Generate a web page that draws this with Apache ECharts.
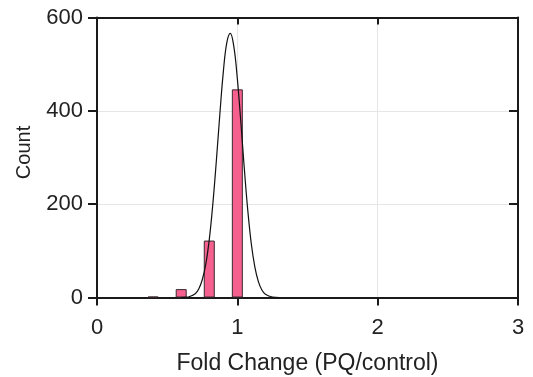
<!DOCTYPE html>
<html>
<head>
<meta charset="utf-8">
<script src="https://cdn.jsdelivr.net/npm/echarts@6/dist/echarts.min.js"></script>
<style>
  html, body { margin: 0; padding: 0; background: #fff; }
  #chart { width: 533px; height: 377px; }
</style>
</head>
<body>
<div id="chart"></div>
<script>
// Histogram bins (bin centres) and counts
const binCenters = [0.4, 0.6, 0.8, 1.0];
const binCounts = [2, 18, 122, 446];

// Fitted distribution curve, sampled along fold change
const fitX = [0.6, 0.65, 0.7, 0.725, 0.75, 0.775, 0.8, 0.825, 0.85, 0.875, 0.9, 0.925, 0.95,
              0.975, 1.0, 1.025, 1.05, 1.075, 1.1, 1.125, 1.15, 1.175, 1.2, 1.25, 1.3];
const fitY = [0, 1, 8, 18, 38, 71, 124, 199, 291, 391, 483, 546, 566,
              538, 469, 376, 275, 185, 114, 65, 34, 16, 7, 1, 0];

// Axis ticks
const xTicks = [0, 1, 2, 3];
const yTicks = [0, 200, 400, 600];

const axisColor = '#1a1a1a';
const textColor = '#222';
const font = 'Liberation Sans, Arial, Helvetica, sans-serif';

const chart = echarts.init(document.getElementById('chart'), null, { renderer: 'canvas' });

chart.setOption({
  animation: false,
  grid: { left: 97, right: 15, top: 17.5, bottom: 79.5, containLabel: false, outerBoundsMode: 'none' },
  xAxis: [
    {
      type: 'value', min: xTicks[0], max: xTicks[xTicks.length - 1], interval: 1,
      position: 'bottom',
      name: 'Fold Change (PQ/control)', nameLocation: 'middle', nameGap: 55,
      nameTextStyle: { fontFamily: font, fontSize: 23, color: textColor },
      axisLine: { show: true, onZero: false, lineStyle: { color: axisColor, width: 2 } },
      axisTick: { show: true, inside: false, length: 8, lineStyle: { color: axisColor, width: 2 } },
      axisLabel: { fontFamily: font, fontSize: 22, color: textColor, margin: 19 },
      splitLine: { show: true, lineStyle: { color: '#e6e6e6', width: 1 } }
    },
    {
      type: 'value', min: xTicks[0], max: xTicks[xTicks.length - 1], interval: 1,
      position: 'top',
      axisLine: { show: true, onZero: false, lineStyle: { color: axisColor, width: 2 } },
      axisTick: { show: true, inside: true, length: 7, lineStyle: { color: axisColor, width: 2 } },
      axisLabel: { show: false },
      splitLine: { show: false }
    }
  ],
  yAxis: [
    {
      type: 'value', min: yTicks[0], max: yTicks[yTicks.length - 1], interval: 200,
      position: 'left',
      name: 'Count', nameLocation: 'middle', nameGap: 63, nameRotate: 90,
      nameTextStyle: { fontFamily: font, fontSize: 20, color: textColor, padding: [0, 0, 0, 10] },
      axisLine: { show: true, onZero: false, lineStyle: { color: axisColor, width: 2 } },
      axisTick: { show: true, inside: false, length: 9, lineStyle: { color: axisColor, width: 2 } },
      axisLabel: { fontFamily: font, fontSize: 22, color: textColor, margin: 14 },
      splitLine: { show: true, lineStyle: { color: '#e6e6e6', width: 1 } }
    },
    {
      type: 'value', min: yTicks[0], max: yTicks[yTicks.length - 1], interval: 200,
      position: 'right',
      axisLine: { show: true, onZero: false, lineStyle: { color: axisColor, width: 2 } },
      axisTick: { show: true, inside: true, length: 9, lineStyle: { color: axisColor, width: 2 } },
      axisLabel: { show: false },
      splitLine: { show: false }
    }
  ],
  series: [
    {
      type: 'bar',
      xAxisIndex: 0, yAxisIndex: 0,
      barWidth: 11,
      data: binCenters.map((x, i) => [x, binCounts[i]]),
      itemStyle: { color: '#f5608f', borderColor: '#3a2a30', borderWidth: 1 },
      z: 2
    },
    {
      type: 'line',
      xAxisIndex: 0, yAxisIndex: 0,
      smooth: 0.4,
      showSymbol: false,
      data: fitX.map((x, i) => [x, fitY[i]]),
      lineStyle: { color: '#111', width: 1.2 },
      z: 3
    }
  ]
});
</script>
</body>
</html>
